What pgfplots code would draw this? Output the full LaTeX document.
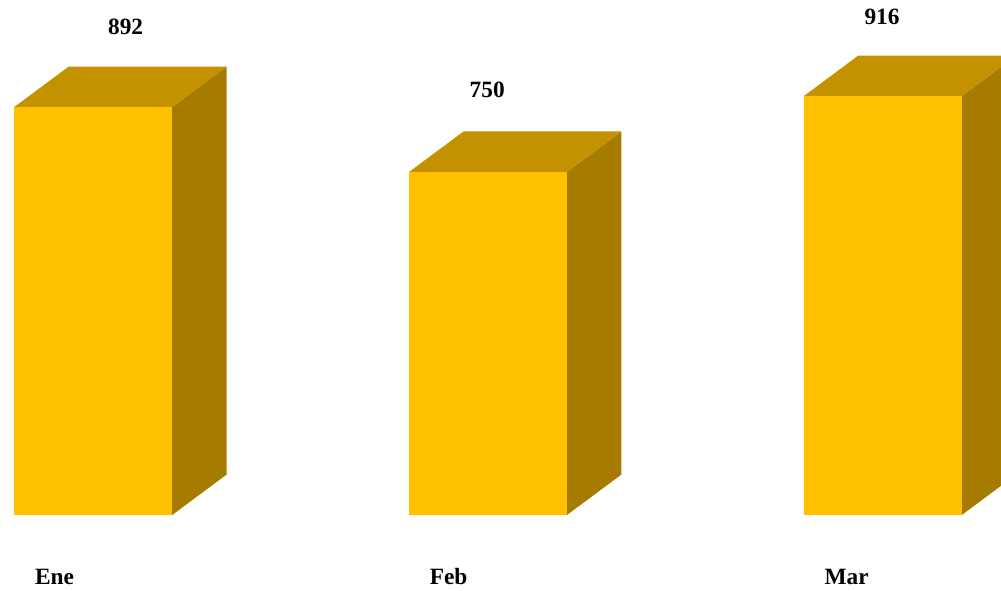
\documentclass[border=0pt]{standalone}
\usepackage{pgfplots}
\pgfplotsset{compat=1.18}
\usepackage{fontspec}
\setmainfont{Liberation Serif}
\definecolor{front}{RGB}{255,192,0}
\definecolor{topc}{RGB}{196,146,0}
\definecolor{sidec}{RGB}{166,124,0}
\tikzset{lbl/.style={font=\fontsize{17.5}{21}\selectfont\bfseries, text=black}}
\begin{document}
\begin{tikzpicture}
\begin{axis}[
  scale only axis, width=750.75pt, height=442.5pt,
  xmin=-0.2361, xmax=2.2994, ymin=-164, ymax=1126,
  hide axis, clip=true,
]
% Ene (892)
\addplot[fill=sidec, draw=none] coordinates {(0.2,0) (0.338,88.5) (0.338,980.5) (0.2,892)} -- cycle;
\addplot[fill=topc, draw=none] coordinates {(-0.2,892) (0.2,892) (0.338,980.5) (-0.062,980.5)} -- cycle;
\addplot[fill=front, draw=none] coordinates {(-0.2,0) (0.2,0) (0.2,892) (-0.2,892)} -- cycle;
% Feb (750)
\addplot[fill=sidec, draw=none] coordinates {(1.2,0) (1.338,88.5) (1.338,838.5) (1.2,750)} -- cycle;
\addplot[fill=topc, draw=none] coordinates {(0.8,750) (1.2,750) (1.338,838.5) (0.938,838.5)} -- cycle;
\addplot[fill=front, draw=none] coordinates {(0.8,0) (1.2,0) (1.2,750) (0.8,750)} -- cycle;
% Mar (916)
\addplot[fill=sidec, draw=none] coordinates {(2.2,0) (2.338,88.5) (2.338,1004.5) (2.2,916)} -- cycle;
\addplot[fill=topc, draw=none] coordinates {(1.8,916) (2.2,916) (2.338,1004.5) (1.938,1004.5)} -- cycle;
\addplot[fill=front, draw=none] coordinates {(1.8,0) (2.2,0) (2.2,916) (1.8,916)} -- cycle;
% value labels
\node[lbl] at (axis cs:0.082,1067) {892};
\node[lbl] at (axis cs:0.998,930) {750};
\node[lbl] at (axis cs:1.998,1088) {916};
% category labels
\node[lbl, anchor=base west, inner sep=0pt] at (axis cs:-0.148,-151) {Ene};
\node[lbl, anchor=base west, inner sep=0pt] at (axis cs:0.852,-151) {Feb};
\node[lbl, anchor=base west, inner sep=0pt] at (axis cs:1.852,-151) {Mar};
\end{axis}
\pgfresetboundingbox
\useasboundingbox (current axis.south west) rectangle (current axis.north east);
\end{tikzpicture}
\end{document}
